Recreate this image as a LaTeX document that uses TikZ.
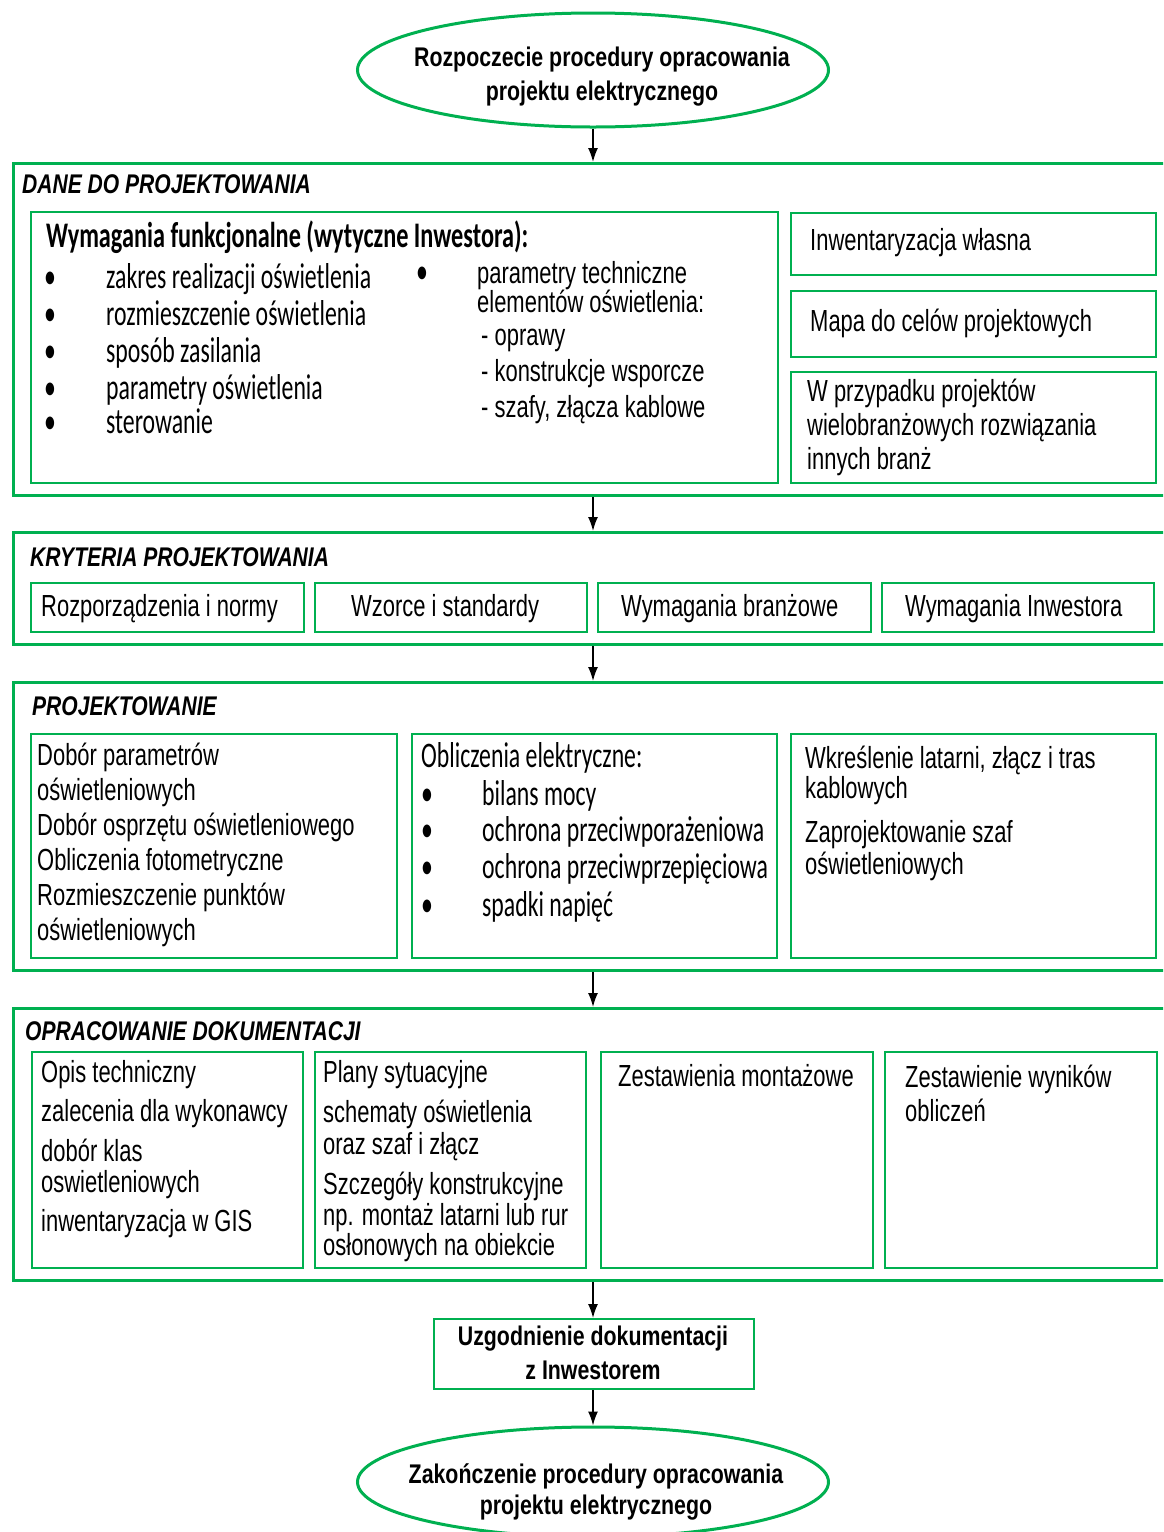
\documentclass[tikz,border=0pt]{standalone}
\usepackage{fontspec}
\setmainfont{Liberation Sans}
\newfontfamily\condf{Liberation Sans}[FakeStretch=0.72]
\newfontfamily\boldf{Liberation Sans}[FakeStretch=0.79]
\newfontfamily\ttlf{Liberation Sans}[FakeStretch=0.78]
\newfontfamily\calf{Carlito}[FakeStretch=0.66]
\newfontfamily\calbf{Carlito}[FakeStretch=0.674]
\usetikzlibrary{shapes.geometric,arrows.meta}
\definecolor{grn}{RGB}{0,176,80}
\tikzset{
 outerbox/.style={draw=grn, line width=3pt, anchor=north west, inner sep=0pt},
 innerbox/.style={draw=grn, line width=2pt, anchor=north west, inner sep=0pt},
 ovalbox/.style={draw=grn, line width=3pt, ellipse, inner sep=0pt, minimum width=471pt},
 ct/.style={anchor=base west, inner sep=0pt, font=\condf\fontsize{30.5}{34}\selectfont},
 cal/.style={anchor=base west, inner sep=0pt, font=\calf\fontsize{36}{38}\selectfont},
 calb/.style={anchor=base west, inner sep=0pt, font=\calbf\bfseries\fontsize{36}{38}\selectfont},
 bul/.style={anchor=base, inner sep=0pt, font=\calf\fontsize{36}{38}\selectfont},
 ttl/.style={anchor=base west, inner sep=0pt, font=\ttlf\bfseries\itshape\fontsize{27}{30}\selectfont},
 bt/.style={anchor=base, inner sep=0pt, font=\boldf\bfseries\fontsize{27}{30}\selectfont},
 arr/.style={-{Latex[length=14pt,width=10pt]}, line width=1.6pt, black},
}
\begin{document}
\begin{tikzpicture}[x=1pt,y=-1pt]
\clip (0,0) rectangle (1163,1532);
\fill[white] (0,0) rectangle (1163,1532);
\coordinate (ax) at (593,0);

% start
\node[ovalbox, minimum height=114pt] (start) at (593,70) {};
\node[bt] (st1) at (602,66) {Rozpoczecie procedury opracowania};
\node[bt] (st2) at (602,100) {projektu elektrycznego};

% section 1
\node[outerbox, minimum width=1170pt, minimum height=332pt] (sec1) at (12,162) {};
\node[ttl] (t1) at (22,193) {DANE DO PROJEKTOWANIA};
\node[innerbox, minimum width=747pt, minimum height=271pt] (wym) at (30,211) {};
\node[calb] (wymh) at (46,247) {Wymagania funkcjonalne (wytyczne Inwestora):};
\node[bul] (b1) at (50,288) {•};
\node[cal] (w1) at (106,288) {zakres realizacji oświetlenia};
\node[bul] (b2) at (50,325) {•};
\node[cal] (w2) at (106,325) {rozmieszczenie oświetlenia};
\node[bul] (b3) at (50,362) {•};
\node[cal] (w3) at (106,362) {sposób zasilania};
\node[bul] (b4) at (50,399) {•};
\node[cal] (w4) at (106,399) {parametry oświetlenia};
\node[bul] (b5) at (50,433) {•};
\node[cal] (w5) at (106,433) {sterowanie};
\node[bul] (b6) at (422,283) {•};
\node[ct] (p1) at (477,283) {parametry techniczne};
\node[ct] (p2) at (477,312) {elementów oświetlenia:};
\node[ct] (p3) at (481,345) {- oprawy};
\node[ct] (p4) at (481,381) {- konstrukcje wsporcze};
\node[ct] (p5) at (481,417) {- szafy, złącza kablowe};

\node[innerbox, minimum width=365pt, minimum height=62pt] (inw) at (790,212) {};
\node[ct] (inwt) at (810,250) {Inwentaryzacja własna};
\node[innerbox, minimum width=365pt, minimum height=66pt] (mapa) at (790,290) {};
\node[ct] (mapat) at (810,331) {Mapa do celów projektowych};
\node[innerbox, minimum width=365pt, minimum height=111pt] (wprz) at (790,371) {};
\node[ct] (wp1) at (807,401) {W przypadku projektów};
\node[ct] (wp2) at (807,435) {wielobranżowych rozwiązania};
\node[ct] (wp3) at (807,469) {innych branż};

% section 2
\node[outerbox, minimum width=1170pt, minimum height=112pt] (sec2) at (12,531) {};
\node[ttl] (t2) at (30,566) {KRYTERIA PROJEKTOWANIA};
\node[innerbox, minimum width=273pt, minimum height=49pt] (k1) at (30,582) {};
\node[ct] (k1t) at (41,616) {Rozporządzenia i normy};
\node[innerbox, minimum width=272pt, minimum height=49pt] (k2) at (314,582) {};
\node[ct] (k2t) at (351,616) {Wzorce i standardy};
\node[innerbox, minimum width=273pt, minimum height=49pt] (k3) at (597,582) {};
\node[ct] (k3t) at (621,616) {Wymagania branżowe};
\node[innerbox, minimum width=272pt, minimum height=49pt] (k4) at (881,582) {};
\node[ct] (k4t) at (905,616) {Wymagania Inwestora};

% section 3
\node[outerbox, minimum width=1170pt, minimum height=288pt] (sec3) at (12,681) {};
\node[ttl] (t3) at (32,715) {PROJEKTOWANIE};
\node[innerbox, minimum width=366pt, minimum height=224pt] (c1) at (30,733) {};
\node[ct] (c11) at (37,765) {Dobór parametrów};
\node[ct] (c12) at (37,800) {oświetleniowych};
\node[ct] (c13) at (37,835) {Dobór osprzętu oświetleniowego};
\node[ct] (c14) at (37,870) {Obliczenia fotometryczne};
\node[ct] (c15) at (37,905) {Rozmieszczenie punktów};
\node[ct] (c16) at (37,940) {oświetleniowych};
\node[innerbox, minimum width=365pt, minimum height=224pt] (c2) at (411,733) {};
\node[cal] (c2h) at (421,767) {Obliczenia elektryczne:};
\node[bul] (cb1) at (427,805) {•};
\node[cal] (c21) at (482,805) {bilans mocy};
\node[bul] (cb2) at (427,841) {•};
\node[cal] (c22) at (482,841) {ochrona przeciwporażeniowa};
\node[bul] (cb3) at (427,878) {•};
\node[cal] (c23) at (482,878) {ochrona przeciwprzepięciowa};
\node[bul] (cb4) at (427,916) {•};
\node[cal] (c24) at (482,916) {spadki napięć};
\node[innerbox, minimum width=365pt, minimum height=224pt] (c3) at (790,733) {};
\node[ct] (c31) at (805,768) {Wkreślenie latarni, złącz i tras};
\node[ct] (c32) at (805,798) {kablowych};
\node[ct] (c33) at (805,842) {Zaprojektowanie szaf};
\node[ct] (c34) at (805,874) {oświetleniowych};

% section 4
\node[outerbox, minimum width=1170pt, minimum height=272pt] (sec4) at (12,1007) {};
\node[ttl] (t4) at (25,1040) {OPRACOWANIE DOKUMENTACJI};
\node[innerbox, minimum width=271pt, minimum height=216pt] (d1) at (31,1051) {};
\node[ct] (d11) at (41,1082) {Opis techniczny};
\node[ct] (d12) at (41,1121) {zalecenia dla wykonawcy};
\node[ct] (d13) at (41,1161) {dobór klas};
\node[ct] (d14) at (41,1192) {oswietleniowych};
\node[ct] (d15) at (41,1231) {inwentaryzacja w GIS};
\node[innerbox, minimum width=271pt, minimum height=216pt] (d2) at (314,1051) {};
\node[ct] (d21) at (323,1082) {Plany sytuacyjne};
\node[ct] (d22) at (323,1122) {schematy oświetlenia};
\node[ct] (d23) at (323,1154) {oraz szaf i złącz};
\node[ct] (d24) at (323,1194) {Szczegóły konstrukcyjne};
\node[ct] (d25) at (323,1225) {np. montaż latarni lub rur};
\node[ct] (d26) at (323,1255) {osłonowych na obiekcie};
\node[innerbox, minimum width=272pt, minimum height=216pt] (d3) at (600,1051) {};
\node[ct] (d31) at (618,1086) {Zestawienia montażowe};
\node[innerbox, minimum width=272pt, minimum height=216pt] (d4) at (884,1051) {};
\node[ct] (d41) at (905,1087) {Zestawienie wyników};
\node[ct] (d42) at (905,1121) {obliczeń};

% agreement
\node[innerbox, minimum width=320pt, minimum height=70pt] (agree) at (433,1318) {};
\node[bt] (ag1) at (593,1345) {Uzgodnienie dokumentacji};
\node[bt] (ag2) at (593,1379) {z Inwestorem};

% end
\node[ovalbox, minimum height=110pt] (finish) at (593,1482) {};
\node[bt] (fi1) at (596,1483) {Zakończenie procedury opracowania};
\node[bt] (fi2) at (596,1514) {projektu elektrycznego};

% arrows
\draw[arr] (start.south) -- (start.south |- sec1.north);
\draw[arr] (sec1.south -| ax) -- (sec2.north -| ax);
\draw[arr] (sec2.south -| ax) -- (sec3.north -| ax);
\draw[arr] (sec3.south -| ax) -- (sec4.north -| ax);
\draw[arr] (sec4.south -| ax) -- (agree.north -| ax);
\draw[arr] (agree.south -| ax) -- (finish.north);
\end{tikzpicture}
\end{document}
